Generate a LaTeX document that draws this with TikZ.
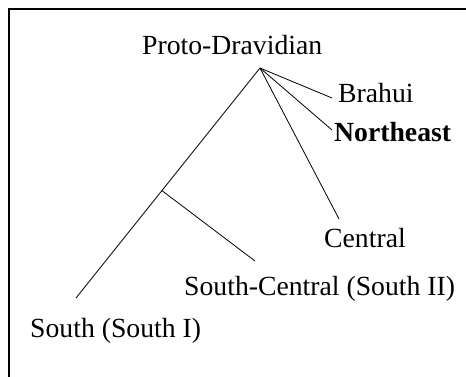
\documentclass[tikz,border=0pt]{standalone}
\usepackage{fontspec}
\setmainfont{Liberation Serif}
\usetikzlibrary{calc}
\begin{document}
\begin{tikzpicture}[x=1pt,y=-1pt,
  lbl/.style={anchor=base west,inner sep=0pt,font=\fontsize{27.7}{32}\selectfont},
  branch/.style={line width=0.8pt},
  frame/.style={line width=1.6pt}]
\useasboundingbox (0,0) rectangle (466,376);
\draw[frame] (9,380) -- (9,9) -- (470,9);
\node[lbl] (proto) at (142,54) {Proto-Dravidian};
\node[lbl] (brahui) at (338,102) {Brahui};
\node[lbl] (ne) at (334,141) {\bfseries Northeast};
\node[lbl] (central) at (324,247) {Central};
\node[lbl] (sc) at (184,295) {South-Central (South II)};
\node[lbl] (south) at (30,337) {South (South I)};
\coordinate (root) at (260,68);
\coordinate (eb) at (332,98);
\coordinate (ene) at (332,130);
\coordinate (ec) at (339,219);
\coordinate (es) at (76,298);
\coordinate (split) at ($(root)!0.533!(es)$);
\coordinate (esc) at (255,261);
\draw[branch] (root) -- (eb);
\draw[branch] (root) -- (ene);
\draw[branch] (root) -- (ec);
\draw[branch] (root) -- (es);
\draw[branch] (split) -- (esc);
\end{tikzpicture}
\end{document}
